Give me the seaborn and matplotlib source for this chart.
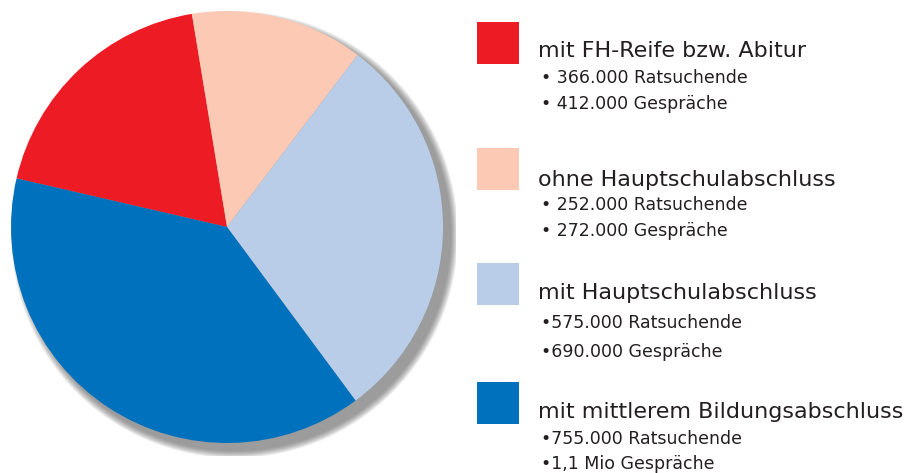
import matplotlib
matplotlib.use("Agg")
import matplotlib.pyplot as plt
import seaborn as sns
from matplotlib.patches import Circle, Rectangle

# Data
categories = ["mit FH-Reife bzw. Abitur", "ohne Hauptschulabschluss",
              "mit Hauptschulabschluss", "mit mittlerem Bildungsabschluss"]
ratsuchende = [366000, 252000, 575000, 755000]
lines_1 = ["• 366.000 Ratsuchende", "• 252.000 Ratsuchende",
           "•575.000 Ratsuchende", "•755.000 Ratsuchende"]
lines_2 = ["• 412.000 Gespräche", "• 272.000 Gespräche",
           "•690.000 Gespräche", "•1,1 Mio Gespräche"]
colors = ["#ED1C24", "#FBC9B4", "#BACDE8", "#0071BC"]

sns.set_theme(style="white")
plt.rcParams["font.family"] = ["DejaVu Sans"]

W, H = 920, 473
fig = plt.figure(figsize=(W / 100, H / 100), dpi=100)
fig.patch.set_facecolor("white")

def fx(x):
    return x / W

def fy(y):
    return 1 - y / H

# Pie axes: center (227,227), radius 216 px, limits +-1.06
lim = 1.06
size = 2 * lim * 216
ax = fig.add_axes([fx(227 - size / 2), fy(227 + size / 2), size / W, size / H])
ax.axis("off")

# soft drop shadow
n = 16
for i in range(n):
    r = 1.0 + 0.035 * (1 - i / n)
    ax.add_patch(Circle((0.035, -0.035), r, color="#5a5a5a", alpha=0.05, lw=0, zorder=0))

ax.pie(ratsuchende, colors=colors, startangle=167, counterclock=False,
       radius=1.0, wedgeprops=dict(linewidth=0), center=(0, 0), frame=False)
ax.set_aspect("equal")
ax.set_xlim(-lim, lim)
ax.set_ylim(-lim, lim)

# Legend
square_top = [22, 148, 263, 382]
head_base = [57, 186, 299, 418]
l1_base = [83, 210, 328, 444]
l2_base = [109, 236, 357, 469]

for i in range(len(categories)):
    fig.patches.append(Rectangle((fx(477), fy(square_top[i] + 42)), 42 / W, 42 / H,
                                 transform=fig.transFigure, color=colors[i], lw=0))
    fig.text(fx(538), fy(head_base[i]), categories[i], fontsize=16,
             color="#231F20", va="baseline", ha="left")
    fig.text(fx(541), fy(l1_base[i]), lines_1[i], fontsize=12.5,
             color="#231F20", va="baseline", ha="left")
    fig.text(fx(541), fy(l2_base[i]), lines_2[i], fontsize=12.5,
             color="#231F20", va="baseline", ha="left")

fig.savefig("out.png", dpi=100, facecolor="white")
